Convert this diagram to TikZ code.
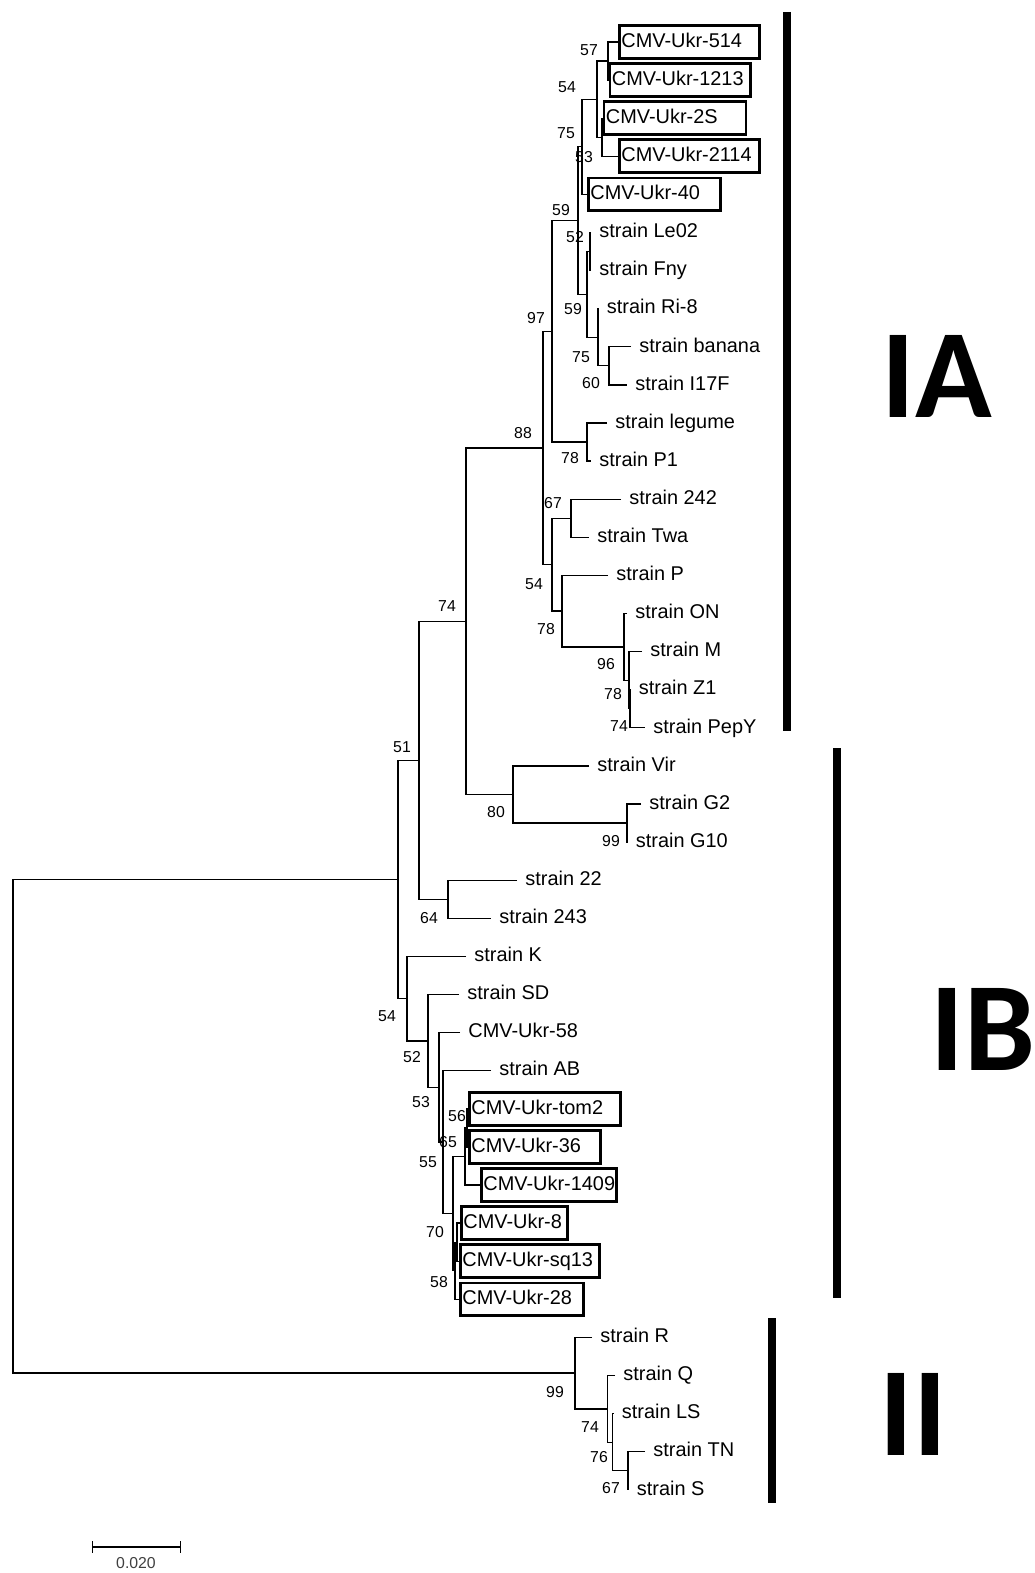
\documentclass[tikz,border=0pt]{standalone}
\usepackage{fontspec}
\setmainfont{Liberation Sans}
\newfontfamily\cladefont{Carlito}
\usetikzlibrary{arrows.meta}

\begin{document}
\begin{tikzpicture}[
  x=0.03cm, y=-0.03cm,
  branch/.style={line width=1.1pt, line join=miter},
  leaf/.style={anchor=west, inner xsep=7pt, inner ysep=0pt,
               text height=12.5pt, text depth=3.5pt,
               font=\fontsize{17}{20}\selectfont},
  ukrbox/.style={leaf, draw, line width=2.4pt, inner xsep=1.7pt,
                 minimum height=28pt, text width=#1, align=left},
  boot/.style={inner sep=0pt, font=\fontsize{13.5}{16}\selectfont},
  clade/.style={anchor=base west, inner sep=0pt,
                font=\cladefont\bfseries\fontsize{108}{120}\selectfont},
  cladebar/.style={line width=6.8pt},
  scalebar/.style={line width=1.1pt, {Bar[width=9.5pt]}-{Bar[width=9.5pt]}}
]
\fill[white] (0,0) rectangle (1033,1573);

% leaves
\node[ukrbox=116.1pt] (l514)  at (618,42)    {\mbox{CMV-Ukr-514}};
\node[ukrbox=116.9pt] (l1213) at (608.5,80.1) {\mbox{CMV-Ukr-1213}};
\node[ukrbox=117.8pt] (l2S)   at (602.5,118.2) {\mbox{CMV-Ukr-2S}};
\node[ukrbox=116.1pt] (l2114) at (618,156.3) {\mbox{CMV-Ukr-2114}};
\node[ukrbox=109.3pt] (l40)   at (587,194.4) {\mbox{CMV-Ukr-40}};
\node[leaf] (lLe02)   at (591,232.5)   {strain Le02};
\node[leaf] (lFny)    at (591,270.6)   {strain Fny};
\node[leaf] (lRi8)    at (598.5,308.7) {strain Ri-8};
\node[leaf] (lbanana) at (631,346.8)   {strain banana};
\node[leaf] (lI17F)   at (627,384.9)   {strain I17F};
\node[leaf] (llegume) at (607,423)     {strain legume};
\node[leaf] (lP1)     at (591,461.1)   {strain P1};
\node[leaf] (l242)    at (621,499.2)   {strain 242};
\node[leaf] (lTwa)    at (589,537.3)   {strain Twa};
\node[leaf] (lP)      at (608,575.4)   {strain P};
\node[leaf] (lON)     at (627,613.5)   {strain ON};
\node[leaf] (lM)      at (642,651.6)   {strain M};
\node[leaf] (lZ1)     at (630.5,689.7) {strain Z1};
\node[leaf] (lPepY)   at (645,727.8)   {strain PepY};
\node[leaf] (lVir)    at (589,765.9)   {strain Vir};
\node[leaf] (lG2)     at (641,804)     {strain G2};
\node[leaf] (lG10)    at (627.5,842.1) {strain G10};
\node[leaf] (l22)     at (517,880.2)   {strain 22};
\node[leaf] (l243)    at (491,918.3)   {strain 243};
\node[leaf] (lK)      at (466,956.4)   {strain K};
\node[leaf] (lSD)     at (459,994.5)   {strain SD};
\node[leaf] (l58)     at (460,1032.6)  {CMV-Ukr-58};
\node[leaf] (lAB)     at (491,1070.7)  {strain AB};
\node[ukrbox=125.5pt] (ltom2) at (468,1108.8) {\mbox{CMV-Ukr-tom2}};
\node[ukrbox=108.4pt] (l36)   at (468,1146.9) {\mbox{CMV-Ukr-36}};
\node[ukrbox=112pt]   (l1409) at (480,1185)   {\mbox{CMV-Ukr-1409}};
\node[ukrbox=87.1pt]  (l8)    at (460,1223.1) {\mbox{CMV-Ukr-8}};
\node[ukrbox=115.2pt] (lsq13) at (459,1261.2) {\mbox{CMV-Ukr-sq13}};
\node[ukrbox=101.6pt] (l28)   at (459,1299.3) {\mbox{CMV-Ukr-28}};
\node[leaf] (lR)      at (592,1337.4)   {strain R};
\node[leaf] (lQ)      at (615,1375.5)   {strain Q};
\node[leaf] (lLS)     at (613.5,1413.6) {strain LS};
\node[leaf] (lTN)     at (645,1451.7)   {strain TN};
\node[leaf] (lS)      at (628.5,1489.8) {strain S};

% inner nodes
\coordinate (nA1)   at (608,61.05);
\coordinate (nA2)   at (602,137.25);
\coordinate (nA3)   at (597,99.15);
\coordinate (nA4)   at (582,146.8);
\coordinate (nLe)   at (590,251.55);
\coordinate (nBan)  at (609,365.85);
\coordinate (nRi)   at (598,337.3);
\coordinate (nFny)  at (587,294.4);
\coordinate (nA5)   at (578,220.6);
\coordinate (nLeg)  at (587,442.05);
\coordinate (n97)   at (552,331.3);
\coordinate (n242)  at (571,518.25);
\coordinate (nZ1)   at (630,708.75);
\coordinate (nM)    at (629,680.2);
\coordinate (nON)   at (624,646.85);
\coordinate (nP)    at (562,611.1);
\coordinate (n54b)  at (552,564.7);
\coordinate (n88)   at (543,448);
\coordinate (nG)    at (627,823.05);
\coordinate (nVir)  at (513,794.5);
\coordinate (nIA)   at (466,621.25);
\coordinate (n22)   at (448,899.25);
\coordinate (n51)   at (419,760.25);
\coordinate (ntom)  at (467,1127.85);
\coordinate (n1409) at (465,1156.4);
\coordinate (n8)    at (457,1242.15);
\coordinate (n28)   at (455,1270.7);
\coordinate (nX)    at (453,1213.55);
\coordinate (nAB)   at (443,1142.1);
\coordinate (n58)   at (439,1087.35);
\coordinate (nSD)   at (428,1040.9);
\coordinate (nK)    at (407,998.65);
\coordinate (ntop)  at (398,879.45);
\coordinate (nTN)   at (628,1470.75);
\coordinate (nLS)   at (612.5,1442.2);
\coordinate (nQ)    at (607.5,1408.85);
\coordinate (nR)    at (575,1373.1);
\coordinate (root)  at (13,1126.3);

% branches
\draw[branch] (l514.west) -| (nA1) |- (l1213.west);
\draw[branch] (l2S.west) -| (nA2) |- (l2114.west);
\draw[branch] (nA1) -| (nA3) |- (nA2);
\draw[branch] (nA3) -| (nA4) |- (l40.west);
\draw[branch] (lLe02.west) -| (nLe) |- (lFny.west);
\draw[branch] (lbanana.west) -| (nBan) |- (lI17F.west);
\draw[branch] (lRi8.west) -| (nRi) |- (nBan);
\draw[branch] (nLe) -| (nFny) |- (nRi);
\draw[branch] (nA4) -| (nA5) |- (nFny);
\draw[branch] (llegume.west) -| (nLeg) |- (lP1.west);
\draw[branch] (nA5) -| (n97) |- (nLeg);
\draw[branch] (l242.west) -| (n242) |- (lTwa.west);
\draw[branch] (lZ1.west) -| (nZ1) |- (lPepY.west);
\draw[branch] (lM.west) -| (nM) |- (nZ1);
\draw[branch] (lON.west) -| (nON) |- (nM);
\draw[branch] (lP.west) -| (nP) |- (nON);
\draw[branch] (n242) -| (n54b) |- (nP);
\draw[branch] (n97) -| (n88) |- (n54b);
\draw[branch] (lG2.west) -| (nG) |- (lG10.west);
\draw[branch] (lVir.west) -| (nVir) |- (nG);
\draw[branch] (n88) -| (nIA) |- (nVir);
\draw[branch] (l22.west) -| (n22) |- (l243.west);
\draw[branch] (nIA) -| (n51) |- (n22);
\draw[branch] (ltom2.west) -| (ntom) |- (l36.west);
\draw[branch] (ntom) -| (n1409) |- (l1409.west);
\draw[branch] (l8.west) -| (n8) |- (lsq13.west);
\draw[branch] (n8) -| (n28) |- (l28.west);
\draw[branch] (n1409) -| (nX) |- (n28);
\draw[branch] (lAB.west) -| (nAB) |- (nX);
\draw[branch] (l58.west) -| (n58) |- (nAB);
\draw[branch] (lSD.west) -| (nSD) |- (n58);
\draw[branch] (lK.west) -| (nK) |- (nSD);
\draw[branch] (n51) -| (ntop) |- (nK);
\draw[branch] (lTN.west) -| (nTN) |- (lS.west);
\draw[branch] (lLS.west) -| (nLS) |- (nTN);
\draw[branch] (lQ.west) -| (nQ) |- (nLS);
\draw[branch] (lR.west) -| (nR) |- (nQ);
\draw[branch] (ntop) -| (root) |- (nR);

% bootstrap values
\node[boot] (bA1)   at (589,50)   {57};
\node[boot] (bA3)   at (567,87)   {54};
\node[boot] (bA4)   at (566,133)  {75};
\node[boot] (bA2)   at (584,157)  {53};
\node[boot] (bA5)   at (561,210)  {59};
\node[boot] (bLe)   at (575,237)  {52};
\node[boot] (bFny)  at (573,309)  {59};
\node[boot] (b97)   at (536,318)  {97};
\node[boot] (bRi)   at (581,357)  {75};
\node[boot] (bBan)  at (591,383)  {60};
\node[boot] (b88)   at (523,433)  {88};
\node[boot] (bLeg)  at (570,458)  {78};
\node[boot] (b242)  at (553,503)  {67};
\node[boot] (b54b)  at (534,584)  {54};
\node[boot] (bP)    at (546,629)  {78};
\node[boot] (bON)   at (606,664)  {96};
\node[boot] (bM)    at (613,694)  {78};
\node[boot] (bZ1)   at (619,726)  {74};
\node[boot] (bIA)   at (447,606)  {74};
\node[boot] (b51)   at (402,747)  {51};
\node[boot] (bVir)  at (496,812)  {80};
\node[boot] (bG)    at (611,841)  {99};
\node[boot] (b22)   at (429,918)  {64};
\node[boot] (bK)    at (387,1016) {54};
\node[boot] (bSD)   at (412,1057) {52};
\node[boot] (b58)   at (421,1102) {53};
\node[boot] (btom)  at (457,1116) {56};
\node[boot] (b1409) at (448,1142) {65};
\node[boot] (bAB)   at (428,1162) {55};
\node[boot] (b8)    at (435,1232) {70};
\node[boot] (b28)   at (439,1282) {58};
\node[boot] (bR)    at (555,1392) {99};
\node[boot] (bQ)    at (590,1427) {74};
\node[boot] (bLS)   at (599,1457) {76};
\node[boot] (bTN)   at (611,1488) {67};

% clades
\draw[cladebar] (787,12) -- (787,731);
\draw[cladebar] (837,748) -- (837,1298);
\draw[cladebar] (772,1318) -- (772,1503);
\node[clade] (cIA) at (881,417)  {IA};
\node[clade] (cIB) at (930,1070) {IB};
\node[clade] (cII) at (879,1455) {II};

% scale
\coordinate (sbL) at (92,1547);
\coordinate (sbR) at (181,1547);
\draw[scalebar] (sbL) -- (sbR);
\node[boot, text=black!75] (sbtxt) at (136,1563) {0.020};
\end{tikzpicture}
\end{document}
